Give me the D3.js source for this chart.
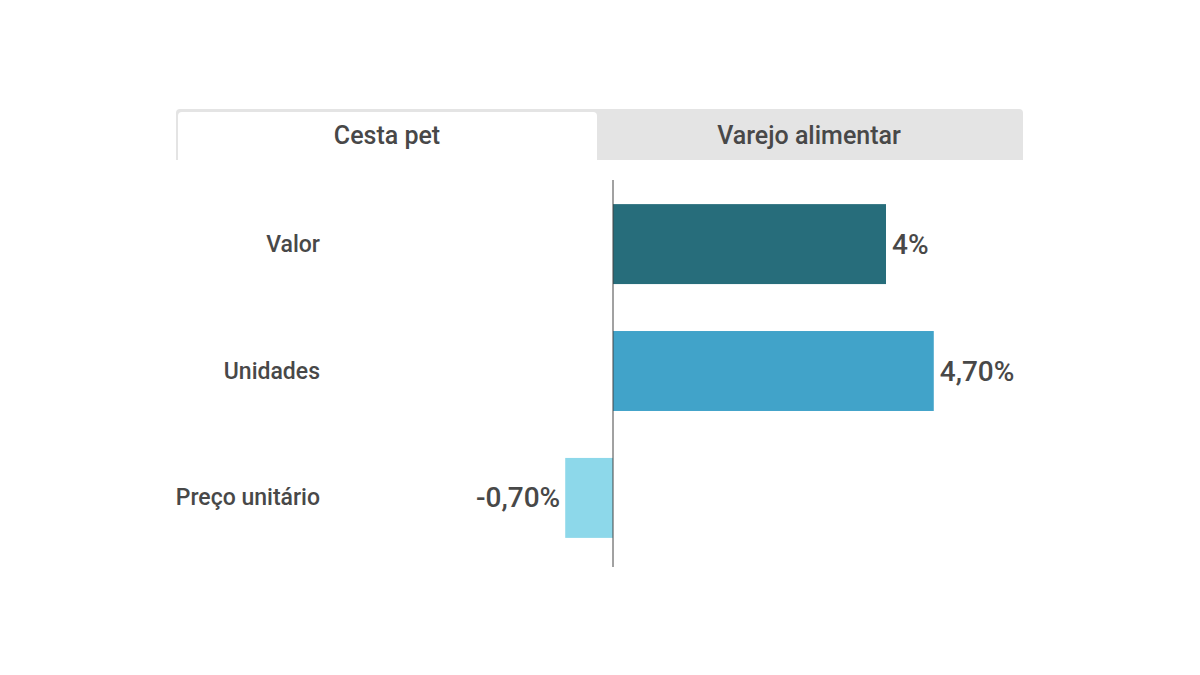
<!DOCTYPE html>
<html>
<head>
<meta charset="utf-8">
<script src="https://cdn.jsdelivr.net/npm/d3@7.9.0/dist/d3.min.js"></script>
<style>
  body { margin: 0; background: #fff; font-family: Roboto, sans-serif; }
  svg text { fill: #484848; }
</style>
</head>
<body>
<div id="chart"></div>
<script>
const tabs = ['Cesta pet', 'Varejo alimentar'];
const categories = ['Valor', 'Unidades', 'Preço unitário'];
const values = [4, 4.7, -0.7];
const valueLabels = ['4%', '4,70%', '-0,70%'];
const colors = ['#276d7b', '#41a3c9', '#8dd8ea'];

const width = 1200;
const height = 675;

const svg = d3.select('#chart')
  .append('svg')
  .attr('width', width)
  .attr('height', height);

// Tabs
const tabArea = { left: 176, right: 1023, top: 109, bottom: 160 };
const tabScale = d3.scaleBand()
  .domain(tabs)
  .range([tabArea.left, tabArea.right - 3]);

svg.append('rect')
  .attr('x', tabArea.left)
  .attr('y', tabArea.top)
  .attr('width', tabArea.right - tabArea.left)
  .attr('height', tabArea.bottom - tabArea.top)
  .attr('rx', 4)
  .attr('fill', '#e4e4e4');
// square off bottom corners
svg.append('rect')
  .attr('x', tabArea.left)
  .attr('y', tabArea.bottom - 8)
  .attr('width', tabArea.right - tabArea.left)
  .attr('height', 8)
  .attr('fill', '#e4e4e4');

// active tab
const active = tabs[0];
const ax = tabScale(active) + 2;
const aw = tabScale.bandwidth() - 3;
svg.append('path')
  .attr('d', `M${ax},${tabArea.bottom} V${tabArea.top + 7} q0,-4 4,-4 H${ax + aw - 4} q4,0 4,4 V${tabArea.bottom} Z`)
  .attr('fill', '#fff');

svg.append('g')
  .selectAll('text')
  .data(tabs)
  .join('text')
  .attr('x', d => tabScale(d) + tabScale.bandwidth() / 2)
  .attr('y', 135)
  .attr('text-anchor', 'middle')
  .attr('dominant-baseline', 'central')
  .style('font-size', '25px')
  .style('font-weight', 500)
  .text(d => d);

// Bars
const x = d3.scaleLinear()
  .domain([0, 4])
  .range([613, 886]);

const y = d3.scaleBand()
  .domain(categories)
  .range([180, 562])
  .paddingInner(0.37)
  .paddingOuter(0.19);

const data = categories.map((c, i) => ({
  cat: c, value: values[i], label: valueLabels[i], color: colors[i]
}));

svg.append('g')
  .selectAll('rect')
  .data(data)
  .join('rect')
  .attr('x', d => Math.min(x(0), x(d.value)))
  .attr('y', d => y(d.cat))
  .attr('width', d => Math.abs(x(d.value) - x(0)))
  .attr('height', y.bandwidth())
  .attr('fill', d => d.color);

// zero line
svg.append('line')
  .attr('x1', x(0)).attr('x2', x(0))
  .attr('y1', 180).attr('y2', 567)
  .attr('stroke', '#444')
  .attr('stroke-width', 1);

// category labels
svg.append('g')
  .selectAll('text')
  .data(data)
  .join('text')
  .attr('x', 320)
  .attr('y', d => y(d.cat) + y.bandwidth() / 2)
  .attr('text-anchor', 'end')
  .attr('dominant-baseline', 'central')
  .style('font-size', '23px')
  .style('font-weight', 500)
  .text(d => d.cat);

// value labels
svg.append('g')
  .selectAll('text')
  .data(data)
  .join('text')
  .attr('x', d => d.value >= 0 ? x(d.value) + 6 : x(d.value) - 5)
  .attr('y', d => y(d.cat) + y.bandwidth() / 2)
  .attr('text-anchor', d => d.value >= 0 ? 'start' : 'end')
  .attr('dominant-baseline', 'central')
  .style('font-size', '28px')
  .style('font-weight', 500)
  .text(d => d.label);
</script>
</body>
</html>
